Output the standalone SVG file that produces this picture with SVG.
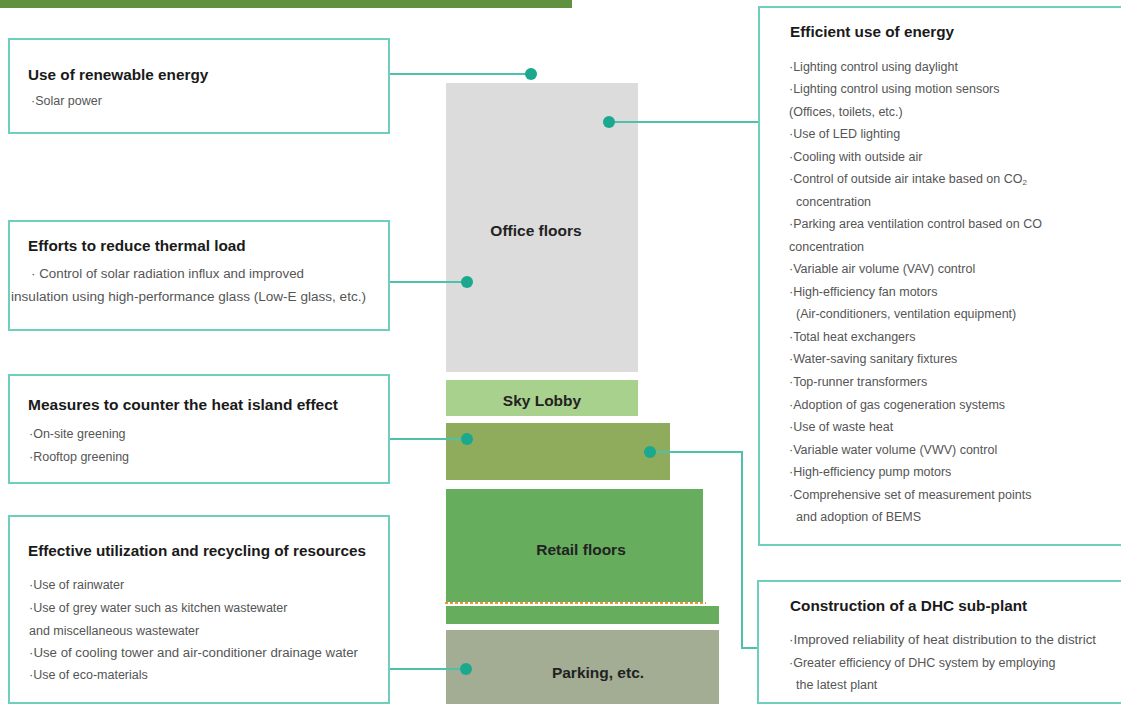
<svg xmlns="http://www.w3.org/2000/svg" width="1121" height="704" viewBox="0 0 1121 704">
<style>
.box{fill:#fff;stroke:#6fcfbc;stroke-width:2}
.title{font-family:"Liberation Sans",Arial,sans-serif;font-weight:bold;font-size:15.3px;fill:#1a1a1a}
.body{font-family:"Liberation Sans",Arial,sans-serif;font-size:12.5px;fill:#555}
.lbl{font-family:"Liberation Sans",Arial,sans-serif;font-weight:bold;font-size:15.5px;fill:#222;text-anchor:middle}
.conn{fill:none;stroke:#4fc0aa;stroke-width:2}
.dot{fill:#1aa88e}
</style>
<rect width="1121" height="704" fill="#fff"/>
<rect x="0" y="0" width="572" height="8" fill="#5f9141"/>

<g id="building">
<rect x="446" y="83" width="192" height="289" fill="#dcdcdc"/>
<text class="lbl" x="536" y="236">Office floors</text>
<rect x="446" y="380" width="192" height="36" fill="#a9d18e"/>
<text class="lbl" x="542" y="406">Sky Lobby</text>
<rect x="446" y="423" width="224" height="57" fill="#8fab5c"/>
<rect x="446" y="489" width="257" height="114" fill="#66ad5e"/>
<text class="lbl" x="581" y="555">Retail floors</text>
<line x1="445" y1="603" x2="706" y2="603" stroke="#fff" stroke-width="2"/>
<line x1="445" y1="603" x2="706" y2="603" stroke="#e8962e" stroke-width="2" stroke-dasharray="3,2"/>
<rect x="446" y="606" width="273" height="18" fill="#66ad5e"/>
<rect x="446" y="630" width="273" height="74" fill="#a3ad93"/>
<text class="lbl" x="598" y="678">Parking, etc.</text>
</g>

<g id="connectors">
<polyline class="conn" points="389,74 531,74"/>
<polyline class="conn" points="389,282 467,282"/>
<polyline class="conn" points="389,439 467,439" stroke="#8fd6c8" stroke-width="1.5"/>
<polyline class="conn" points="389,669 466,669"/>
<polyline class="conn" points="609,122 759,122"/>
<polyline class="conn" points="650,452 742,452 742,648 758,648"/>
<circle class="dot" cx="531" cy="74" r="6"/>
<circle class="dot" cx="609" cy="122" r="6"/>
<circle class="dot" cx="467" cy="282" r="6"/>
<circle class="dot" cx="467" cy="439" r="6"/>
<circle class="dot" cx="650" cy="452" r="6"/>
<circle class="dot" cx="466" cy="669" r="6"/>
</g>

<g id="renewable">
<rect class="box" x="9" y="39" width="380" height="94"/>
<text class="title" x="28" y="80">Use of renewable energy</text>
<text class="body" x="31" y="105">·Solar power</text>
</g>

<g id="thermal">
<rect class="box" x="9" y="221" width="380" height="109"/>
<text class="title" x="28" y="251">Efforts to reduce thermal load</text>
<text class="body" x="31" y="278" textLength="273" lengthAdjust="spacingAndGlyphs"> · Control of solar radiation influx and improved</text>
<text class="body" x="11" y="301" textLength="355" lengthAdjust="spacingAndGlyphs">insulation using high-performance glass (Low-E glass, etc.)</text>
</g>

<g id="heatisland">
<rect class="box" x="9" y="375" width="380" height="108"/>
<text class="title" x="28" y="410" textLength="310" lengthAdjust="spacingAndGlyphs">Measures to counter the heat island effect</text>
<text class="body" x="29" y="438">·On-site greening</text>
<text class="body" x="29" y="461">·Rooftop greening</text>
</g>

<g id="resources">
<rect class="box" x="9" y="516" width="380" height="187"/>
<text class="title" x="28" y="556" textLength="338" lengthAdjust="spacingAndGlyphs">Effective utilization and recycling of resources</text>
<text class="body" x="29" y="589">·Use of rainwater</text>
<text class="body" x="29" y="612">·Use of grey water such as kitchen wastewater</text>
<text class="body" x="29" y="635">and miscellaneous wastewater</text>
<text class="body" x="29" y="657" textLength="329" lengthAdjust="spacingAndGlyphs">·Use of cooling tower and air-conditioner drainage water</text>
<text class="body" x="29" y="679">·Use of eco-materials</text>
</g>

<g id="efficient">
<rect class="box" x="759" y="7" width="370" height="538"/>
<text class="title" x="790" y="37">Efficient use of energy</text>
<text class="body" x="789" y="71">·Lighting control using daylight</text>
<text class="body" x="789" y="93">·Lighting control using motion sensors</text>
<text class="body" x="789" y="116">(Offices, toilets, etc.)</text>
<text class="body" x="789" y="138">·Use of LED lighting</text>
<text class="body" x="789" y="161">·Cooling with outside air</text>
<text class="body" x="789" y="183">·Control of outside air intake based on CO<tspan font-size="8" dy="2">2</tspan></text>
<text class="body" x="796" y="206">concentration</text>
<text class="body" x="789" y="228">·Parking area ventilation control based on CO</text>
<text class="body" x="789" y="251">concentration</text>
<text class="body" x="789" y="273">·Variable air volume (VAV) control</text>
<text class="body" x="789" y="296">·High-efficiency fan motors</text>
<text class="body" x="796" y="318">(Air-conditioners, ventilation equipment)</text>
<text class="body" x="789" y="341">·Total heat exchangers</text>
<text class="body" x="789" y="363">·Water-saving sanitary fixtures</text>
<text class="body" x="789" y="386">·Top-runner transformers</text>
<text class="body" x="789" y="409">·Adoption of gas cogeneration systems</text>
<text class="body" x="789" y="431">·Use of waste heat</text>
<text class="body" x="789" y="454">·Variable water volume (VWV) control</text>
<text class="body" x="789" y="476">·High-efficiency pump motors</text>
<text class="body" x="789" y="499">·Comprehensive set of measurement points</text>
<text class="body" x="796" y="521">and adoption of BEMS</text>
</g>

<g id="dhc">
<rect class="box" x="758" y="581" width="370" height="122"/>
<text class="title" x="790" y="611">Construction of a DHC sub-plant</text>
<text class="body" x="789" y="644" textLength="307" lengthAdjust="spacingAndGlyphs">·Improved reliability of heat distribution to the district</text>
<text class="body" x="789" y="667">·Greater efficiency of DHC system by employing</text>
<text class="body" x="796" y="689">the latest plant</text>
</g>
</svg>
